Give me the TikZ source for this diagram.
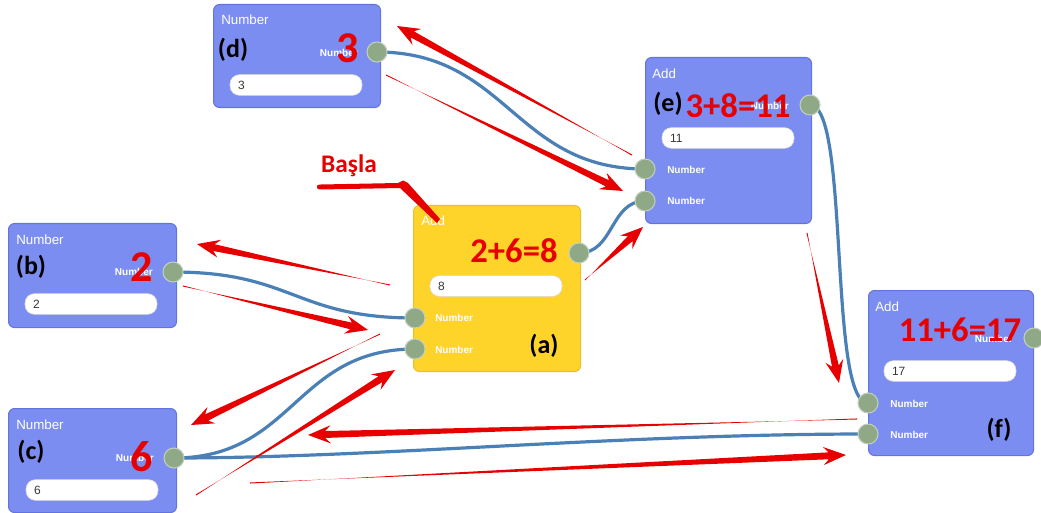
\documentclass[tikz,border=0pt]{standalone}
\usepackage{fontspec}
\setmainfont{Liberation Sans}
\newfontfamily\calfont{Carlito}
\usetikzlibrary{calc}

\definecolor{boxblue}{RGB}{124,141,241}
\definecolor{boxblueedge}{RGB}{100,116,222}
\definecolor{boxyellow}{RGB}{255,212,42}
\definecolor{boxyellowedge}{RGB}{236,192,36}
\definecolor{portgreen}{RGB}{143,168,134}
\definecolor{wireblue}{RGB}{74,128,182}
\definecolor{markred}{RGB}{230,0,0}
\definecolor{fieldtext}{RGB}{55,55,55}

\pgfdeclarelayer{back}
\pgfdeclarelayer{mid}
\pgfsetlayers{back,mid,main}

% tapered annotation arrow: thin tail, widening shaft, swept-back head
\newcommand\taperarrow[2]{%
  \path ($(#2)!13pt!(#1)$) coordinate (tj)
        ($(#2)!17pt!(#1)$) coordinate (tw);
  \fill[markred]
    ($(#1)!0.4pt!90:(#2)$) -- ($(tj)!2.6pt!-90:(#2)$) -- ($(tw)!6.8pt!-90:(#2)$)
    -- (#2)
    -- ($(tw)!6.8pt!90:(#2)$) -- ($(tj)!2.6pt!90:(#2)$) -- ($(#1)!0.4pt!-90:(#2)$) -- cycle;}

\tikzset{
  bluebox/.style={draw=boxblueedge, fill=boxblue, rounded corners=4.5pt, line width=0.8pt,
    anchor=north west, inner sep=0pt},
  yellowbox/.style={bluebox, draw=boxyellowedge, fill=boxyellow},
  title/.style={anchor=west, text=white, font=\fontsize{10}{12}\selectfont, inner sep=0pt},
  tag/.style={font=\calfont\bfseries\fontsize{19.5}{21}\selectfont, inner sep=0pt, text=black},
  sumtext/.style={text=markred, font=\calfont\bfseries\fontsize{26}{28}\selectfont, inner sep=0pt},
  digit/.style={text=markred, font=\calfont\bfseries\fontsize{33}{35}\selectfont, inner sep=0pt},
  plabel/.style={text=white, font=\bfseries\fontsize{7.5}{9}\selectfont, inner sep=0pt},
  port/.style={circle, fill=portgreen, draw=portgreen!55!white, line width=0.8pt,
    minimum size=15pt, inner sep=0pt},
  field/.style={draw=black!15, fill=white, rounded corners=7pt, minimum height=15.5pt,
    text width=87pt, inner xsep=6pt, inner ysep=0pt, align=left,
    font=\fontsize{9}{10}\selectfont, text=fieldtext},
  wire/.style={draw=wireblue, line width=2.4pt},
  basla/.style={text=markred, font=\calfont\bfseries\fontsize{19}{21}\selectfont, inner sep=0pt}
}

\begin{document}
\begin{tikzpicture}[x=0.75pt, y=-0.75pt]
\useasboundingbox (0,0) rectangle (1041,513);

% ---------- node boxes ----------
\begin{pgfonlayer}{back}
  \node[bluebox, minimum width=125.25pt, minimum height=77.25pt] (dbox) at (213,4) {};
  \node[bluebox, minimum width=126pt, minimum height=78pt] (bbox) at (8,223) {};
  \node[bluebox, minimum width=126pt, minimum height=78pt] (cbox) at (8,408) {};
  \node[yellowbox, minimum width=125.25pt, minimum height=124.5pt] (abox) at (413,205) {};
  \node[bluebox, minimum width=124.5pt, minimum height=124.5pt] (ebox) at (645,57) {};
  \node[bluebox, minimum width=123.75pt, minimum height=123.75pt] (fbox) at (868,290) {};
\end{pgfonlayer}

% ---------- titles ----------
\node[title] (dtitle) at (221,20) {Number};
\node[title] (btitle) at (16,240) {Number};
\node[title] (ctitle) at (16,425) {Number};
\node[title] (atitle) at (421,221) {Add};
\node[title] (etitle) at (652,74) {Add};
\node[title] (ftitle) at (875,307) {Add};

% ---------- value fields ----------
\node[field] (dfield) at (296,85) {3};
\node[field] (bfield) at (91,304) {2};
\node[field] (cfield) at (92,490) {6};
\node[field] (afield) at (496,286) {8};
\node[field] (efield) at (728,138) {11};
\node[field] (ffield) at (950,371) {17};

% ---------- port labels ----------
\node[plabel, anchor=east] (dlbl) at (358,53) {Number};
\node[plabel, anchor=east] (blbl) at (153,272) {Number};
\node[plabel, anchor=east] (clbl) at (154,458) {Number};
\node[plabel, anchor=west] (albl1) at (435,318) {Number};
\node[plabel, anchor=west] (albl2) at (435,350) {Number};
\node[plabel, anchor=east] (elbl) at (789,106) {Number};
\node[plabel, anchor=west] (elbl1) at (667,170) {Number};
\node[plabel, anchor=west] (elbl2) at (667,201) {Number};
\node[plabel, anchor=east] (flbl) at (1013,339) {Number};
\node[plabel, anchor=west] (flbl1) at (890,404) {Number};
\node[plabel, anchor=west] (flbl2) at (890,435) {Number};

% ---------- ports ----------
\node[port] (dout) at (377,52) {};
\node[port] (bout) at (173,272) {};
\node[port] (cout) at (174,458) {};
\node[port] (aout) at (579,253) {};
\node[port] (ain1) at (415,318) {};
\node[port] (ain2) at (415,349) {};
\node[port] (eout) at (810,105) {};
\node[port] (ein1) at (645,169) {};
\node[port] (ein2) at (645,201) {};
\node[port] (fout) at (1034,338) {};
\node[port] (fin1) at (868,403) {};
\node[port] (fin2) at (868,434) {};

% ---------- wires ----------
\begin{pgfonlayer}{mid}
  \draw[wire] (dout.center) .. controls +(130,0) and +(-130,0) .. (ein1.center);
  \draw[wire] (bout.center) .. controls +(120,0) and +(-120,0) .. (ain1.center);
  \draw[wire] (cout.center) .. controls +(120,0) and +(-120,0) .. (ain2.center);
  \draw[wire] (aout.center) .. controls +(35,0) and +(-35,0) .. (ein2.center);
  \draw[wire] (eout.center) .. controls +(40,0) and +(-40,0) .. (fin1.center);
  \draw[wire] (cout.center) .. controls +(200,0) and +(-250,0) .. (fin2.center);
\end{pgfonlayer}

% ---------- tags ----------
\node[tag] (dtag) at (233,50) {(d)};
\node[tag] (btag) at (31,267) {(b)};
\node[tag] (ctag) at (31,452) {(c)};
\node[tag] (atag) at (544,346) {(a)};
\node[tag] (etag) at (668,104) {(e)};
\node[tag] (ftag) at (999,430) {(f)};

% ---------- computed values ----------
\node[digit] (dval) at (348,48) {3};
\node[digit] (bval) at (142,267) {2};
\node[digit] (cval) at (142,457) {6};
\node[sumtext] (asum) at (514,251) {2+6=8};
\node[sumtext] (esum) at (738,106) {3+8=11};
\node[sumtext] (fsum) at (960,330) {11+6=17};

% ---------- start marker ----------
\node[basla] (basla) at (349,166) {Başla};
\fill[markred] (317,186.5) .. controls (317,185) .. (321,184.5) -- (398,183) -- (403,180.5) -- (408,183)
  -- (440,219) -- (437,223) -- (400,188) -- (321,189.5) .. controls (317,189) .. (317,186.5) -- cycle;

% ---------- evaluation arrows ----------
\coordinate (r1t) at (632,155); \coordinate (r1h) at (397,26);
\coordinate (r2t) at (386,75);  \coordinate (r2h) at (623,191);
\coordinate (r3t) at (585,280); \coordinate (r3h) at (643,227);
\coordinate (r4t) at (807,233); \coordinate (r4h) at (839,383);
\coordinate (r5t) at (390,285); \coordinate (r5h) at (197,244);
\coordinate (r6t) at (183,286); \coordinate (r6h) at (368,330);
\coordinate (r7t) at (380,334); \coordinate (r7h) at (191,425);
\coordinate (r8t) at (196,495); \coordinate (r8h) at (395,370);
\coordinate (r9t) at (857,419); \coordinate (r9h) at (308,435);
\coordinate (r10t) at (250,483); \coordinate (r10h) at (846,455);
\taperarrow{r1t}{r1h}
\taperarrow{r2t}{r2h}
\taperarrow{r3t}{r3h}
\taperarrow{r4t}{r4h}
\taperarrow{r5t}{r5h}
\taperarrow{r6t}{r6h}
\taperarrow{r7t}{r7h}
\taperarrow{r8t}{r8h}
\taperarrow{r9t}{r9h}
\taperarrow{r10t}{r10h}
\end{tikzpicture}
\end{document}
